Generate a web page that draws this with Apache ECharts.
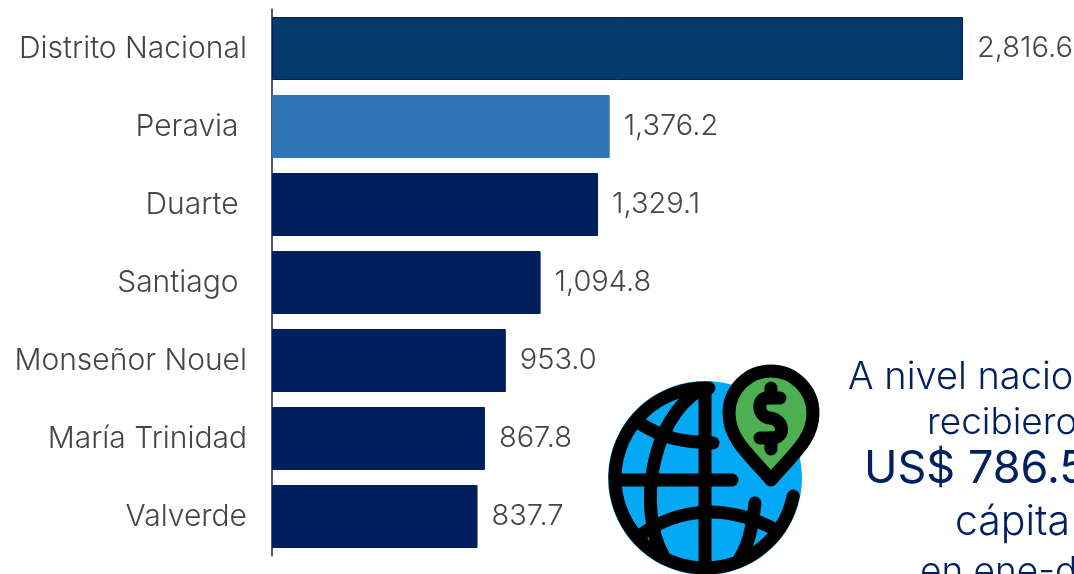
<!DOCTYPE html>
<html>
<head>
<meta charset="utf-8">
<style>
  html, body { margin: 0; padding: 0; background: #fff; overflow: hidden; }
  #main { width: 1074px; height: 574px; }
</style>
<script src="https://cdn.jsdelivr.net/npm/echarts@6/dist/echarts.min.js"></script>
</head>
<body>
<div id="main"></div>
<script>
const categories = ['Distrito Nacional', 'Peravia ', 'Duarte ', 'Santiago ', 'Monseñor Nouel', 'María Trinidad', 'Valverde'];
const values = [2816.6, 1376.2, 1329.1, 1094.8, 953.0, 867.8, 837.7];
const barColors = ['#023b6c', '#2e75b6', '#001f5f', '#001f5f', '#001f5f', '#001f5f', '#001f5f'];

const fontName = 'Inter';
const labelColor = '#454545';
const noteColor = '#002060';

function noteText (text, x, y, size, weight) {
  return {
    type: 'text',
    x: x,
    y: y,
    style: { text: text, font: weight + ' ' + size + 'px ' + fontName, fill: noteColor, textVerticalAlign: 'middle' }
  };
}

const iconStroke = { stroke: '#000', lineWidth: 13, lineCap: 'round', lineJoin: 'round' };

// the graphic component has no plain path type, so each stroke is registered as a shape
let iconCount = 0;
function icon (d, fill) {
  const name = 'iconPart' + iconCount++;
  echarts.graphic.registerShape(name, echarts.graphic.extendPath(d));
  return {
    type: name,
    style: { fill: fill || 'none', ...iconStroke }
  };
}

const chart = echarts.init(document.getElementById('main'));
chart.setOption({
  animation: false,
  grid: { left: 272, top: 9.5, width: 736, height: 546 },
  xAxis: { type: 'value', min: 0, max: 3000, show: false },
  yAxis: {
    type: 'category',
    inverse: true,
    data: categories,
    axisLine: { lineStyle: { color: '#44548f', width: 2 } },
    axisTick: { show: false },
    axisLabel: { margin: 25, fontFamily: fontName, fontWeight: 300, fontSize: 30, color: labelColor }
  },
  series: [{
    type: 'bar',
    barWidth: 63,
    data: values.map((v, i) => ({
      value: v,
      itemStyle: { color: barColors[i], borderColor: i === 1 ? barColors[i] : '#00205f', borderWidth: 1 }
    })),
    label: {
      show: true,
      position: 'right',
      distance: 14,
      fontFamily: fontName,
      fontWeight: 300,
      fontSize: 29,
      color: labelColor,
      formatter: p => p.value.toLocaleString('en-US', { minimumFractionDigits: 1 })
    }
  }],
  graphic: [
    { type: 'circle', shape: { cx: 705, cy: 478, r: 97 }, style: { fill: '#03a9f4' } },
    // globe
    {
      type: 'arc',
      shape: { cx: 705, cy: 478, r: 90, startAngle: -1.527, endAngle: 0.202, clockwise: false },
      style: { fill: 'none', ...iconStroke }
    },
    icon('M705 392 V 566'),
    icon('M621 480 H 732'),
    icon('M636 421 C 665 440 685 442 713 443'),
    icon('M638 537 C 680 505 730 505 776 530'),
    icon('M700 390 C 650 420 638 510 663 555'),
    icon('M755 503 C 752 530 748 545 740 558'),
    // pin
    icon('M771 480 C 750 455 729 440 729 413 A 42 42 0 1 1 813 413 C 813 440 792 455 771 480 Z', '#4caf50'),
    // dollar
    icon('M780 398 L 767 398 C 757 398 757 417 770 418 C 785 420 785 438 772 438 L 760 438'),
    icon('M771 388 V 398'),
    icon('M771 438 V 449'),
    noteText('A nivel nacional', 848, 378, 38, 300),
    noteText('recibieron', 927, 423, 37, 300),
    noteText('US$ 786.5', 864, 469, 45, 400),
    noteText('cápita', 955, 523, 41, 300),
    noteText('en ene-dic', 920, 572, 37, 300)
  ]
});
</script>
</body>
</html>
